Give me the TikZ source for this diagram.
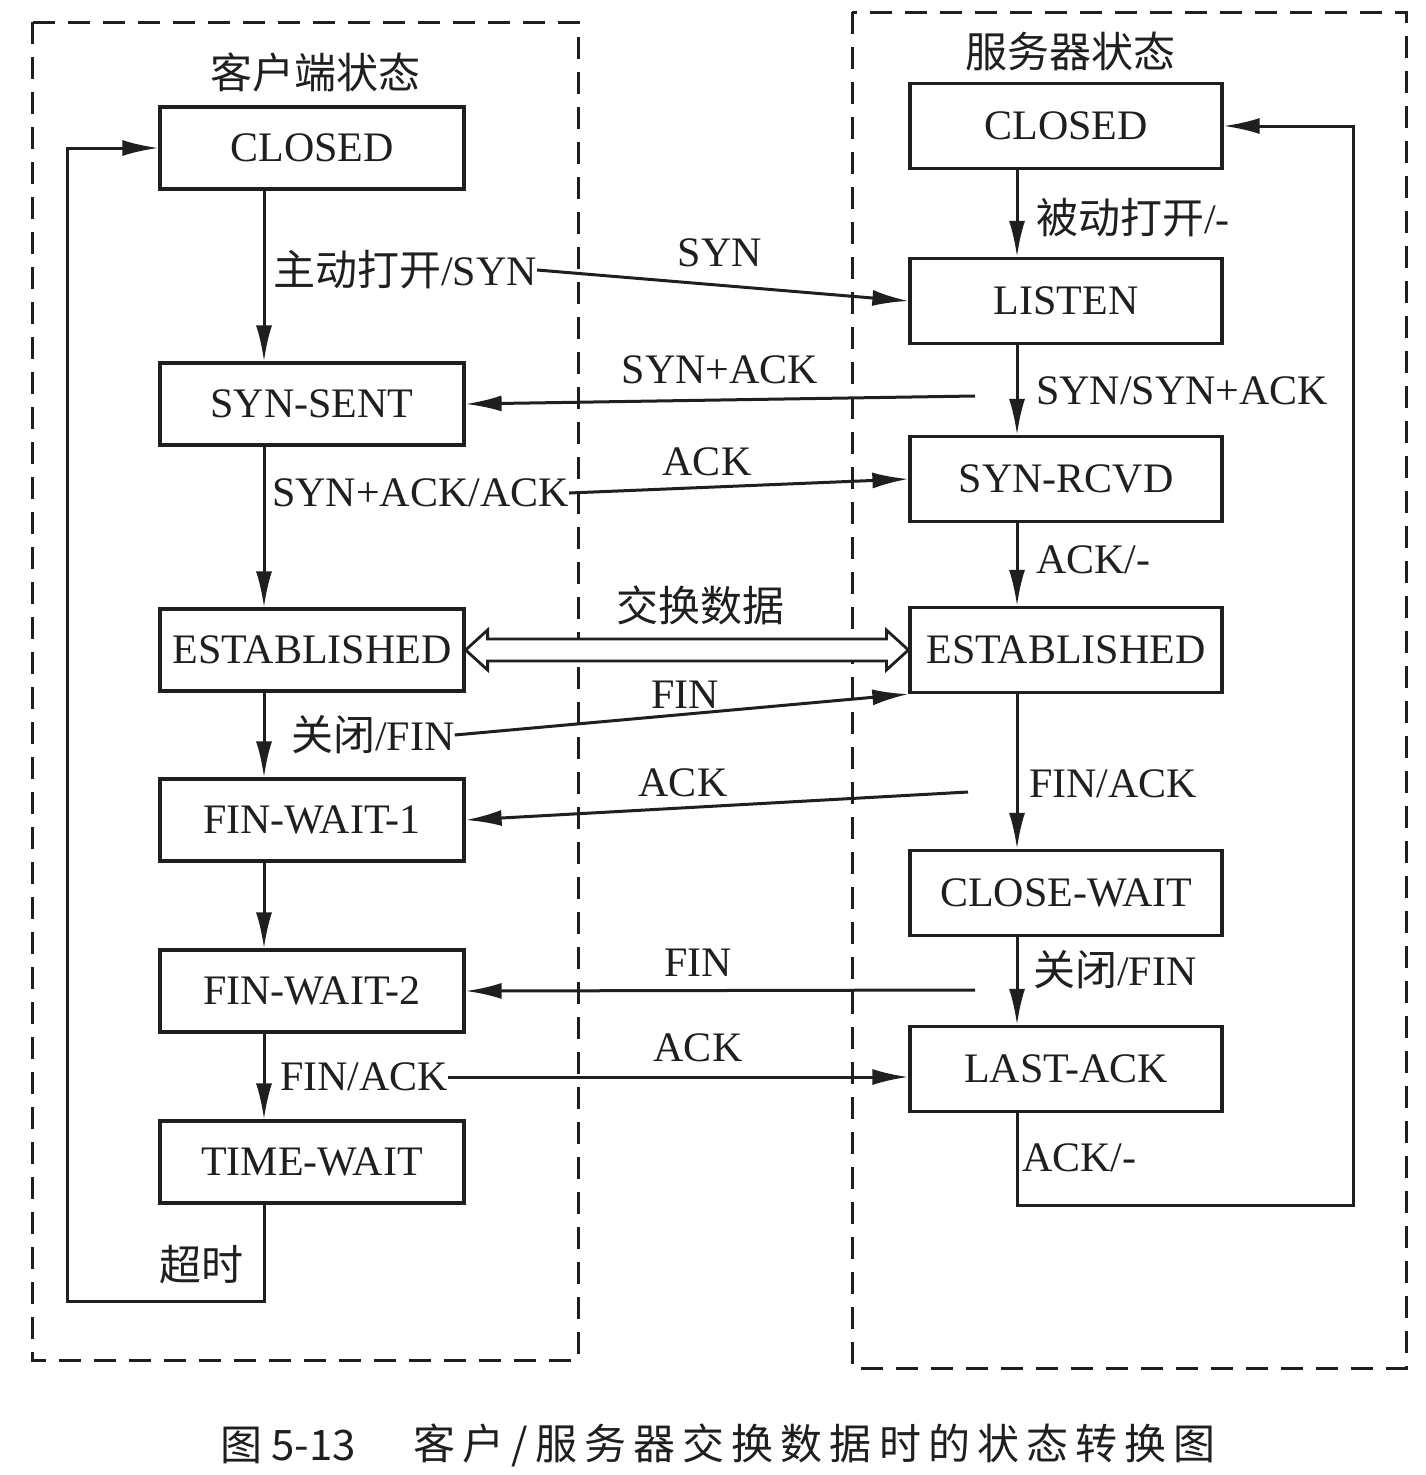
\documentclass[tikz,border=0pt]{standalone}
\usepackage{fontspec}
\setmainfont{Liberation Serif}
\newfontfamily\cjk{Noto Sans CJK SC}
\newfontfamily\cjkls[LetterSpace=17]{Noto Sans CJK SC}
\usetikzlibrary{arrows.meta,calc}
\begin{document}
\begin{tikzpicture}[x=1pt,y=-1pt,
  every node/.style={font=\fontsize{42}{50}\selectfont, text=black!88},
  state/.style={draw=black!88, line width=3.2pt, minimum width=304pt, minimum height=82pt, inner sep=0pt},
  rstate/.style={state, minimum width=312pt, minimum height=85pt},
  lab/.style={inner sep=0pt, anchor=west},
  ctr/.style={inner sep=0pt},
  ln/.style={draw=black!88, line width=3pt},
  arr/.style={ln, -{Latex[length=36pt,width=16pt]}},
  region/.style={draw=black!88, line width=3pt, dash pattern=on 22pt off 13pt}]
\useasboundingbox (0,0) rectangle (1426,1475);
\fill[white] (0,0) rectangle (1426,1475);

% dashed regions
\draw[region] (32,22) rectangle (578,1360);
\draw[region] (852,12) rectangle (1406,1368);

% helper coordinates
\coordinate (lx) at (264,0);
\coordinate (rx) at (1017,0);
\coordinate (lb) at (67,1301);
\coordinate (rb) at (1353,1205);
\coordinate (r1) at (975,396);
\coordinate (r2) at (968,792);
\coordinate (r3) at (975,990);

% titles
\node[ctr] (t1) at (315,72) {\cjk 客户端状态};
\node[ctr] (t2) at (1070,51) {\cjk 服务器状态};

% client states
\node[state] (lclosed) at (312,148) {CLOSED};
\node[state] (lsent) at (312,404) {SYN-SENT};
\node[state] (lest) at (312,650) {ESTABLISHED};
\node[state] (lfw1) at (312,820) {FIN-WAIT-1};
\node[state] (lfw2) at (312,991) {FIN-WAIT-2};
\node[state] (ltw) at (312,1162) {TIME-WAIT};

% server states
\node[rstate] (rclosed) at (1066,126) {CLOSED};
\node[rstate] (rlisten) at (1066,301) {LISTEN};
\node[rstate] (rrcvd) at (1066,479) {SYN-RCVD};
\node[rstate] (rest) at (1066,650) {ESTABLISHED};
\node[rstate] (rcw) at (1066,893) {CLOSE-WAIT};
\node[rstate] (rla) at (1066,1069) {LAST-ACK};

% client vertical transitions
\draw[arr] (lclosed.south -| lx) -- (lsent.north -| lx);
\draw[arr] (lsent.south -| lx) -- (lest.north -| lx);
\draw[arr] (lest.south -| lx) -- (lfw1.north -| lx);
\draw[arr] (lfw1.south -| lx) -- (lfw2.north -| lx);
\draw[arr] (lfw2.south -| lx) -- (ltw.north -| lx);
\draw[arr] (ltw.south -| lx) |- (lb) |- (lclosed.west);

% server vertical transitions
\draw[arr] (rclosed.south -| rx) -- (rlisten.north -| rx);
\draw[arr] (rlisten.south -| rx) -- (rrcvd.north -| rx);
\draw[arr] (rrcvd.south -| rx) -- (rest.north -| rx);
\draw[arr] (rest.south -| rx) -- (rcw.north -| rx);
\draw[arr] (rcw.south -| rx) -- (rla.north -| rx);
\draw[arr] (rla.south -| rx) |- (rb) |- (rclosed.east);

% client labels
\node[lab] (a1) at (273,270) {{\cjk 主动打开}/SYN};
\node[lab] (a2) at (272,493) {SYN+ACK/ACK};
\node[lab] (a3) at (291,735) {{\cjk 关闭}/FIN};
\node[lab] (a4) at (280,1077) {FIN/ACK};
\node[ctr] (a5) at (201,1265) {\cjk 超时};

% server labels
\node[lab] (b1) at (1036,218) {{\cjk 被动打开}/-};
\node[lab] (b2) at (1036,391) {SYN/SYN+ACK};
\node[lab] (b3) at (1036,560) {ACK/-};
\node[lab] (b4) at (1029,784) {FIN/ACK};
\node[lab] (b5) at (1033,970) {{\cjk 关闭}/FIN};
\node[lab] (b6) at (1022,1158) {ACK/-};

% message labels
\node[ctr] (m1) at (720,253) {SYN};
\node[ctr] (m2) at (720,370) {SYN+ACK};
\node[ctr] (m3) at (707,462) {ACK};
\node[ctr] (m4) at (700,605) {\cjk 交换数据};
\node[ctr] (m5) at (685,695) {FIN};
\node[ctr] (m6) at (683,783) {ACK};
\node[ctr] (m7) at (698,963) {FIN};
\node[ctr] (m8) at (698,1048) {ACK};

% messages
\draw[arr] (a1.east) -- (rlisten.west);
\draw[arr] (r1) -- (lsent.east);
\draw[arr] (a2.east) -- (rrcvd.west);
\draw[arr] (a3.east) -- (rest.south west);
\draw[arr] (r2) -- (lfw1.east);
\draw[arr] (r3) -- (lfw2.east);
\draw[arr] (a4.east) -- (a4.east -| rla.west);

% data exchange hollow double arrow
\draw[ln, line width=2.8pt, fill=white]
  (lest.east) -- ($(lest.east)+(22,-20)$) -- ($(lest.east)+(22,-11)$)
  -- ($(rest.west)+(-22,-11)$) -- ($(rest.west)+(-22,-20)$) -- (rest.west)
  -- ($(rest.west)+(-22,20)$) -- ($(rest.west)+(-22,11)$)
  -- ($(lest.east)+(22,11)$) -- ($(lest.east)+(22,20)$) -- cycle;

% caption
\node[lab] (c1) at (220,1445) {\cjk 图 5-13};
\node[lab] (c2) at (413,1445) {\cjkls 客户/服务器交换数据时的状态转换图};
\end{tikzpicture}
\end{document}
